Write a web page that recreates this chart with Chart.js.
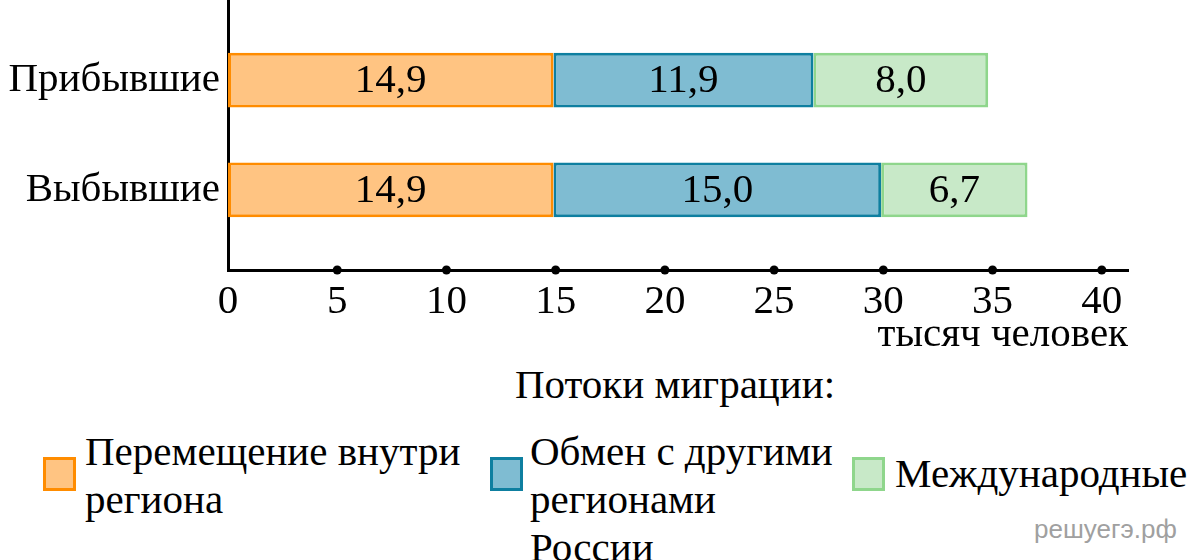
<!DOCTYPE html>
<html lang="ru">
<head>
<meta charset="utf-8">
<script src="https://cdn.jsdelivr.net/npm/chart.js@4.4.0/dist/chart.umd.min.js"></script>
<style>
  body { margin: 0; background: #fff; }
  #wrap { position: relative; width: 1200px; height: 560px; overflow: hidden; font-family: "Liberation Serif", "Times New Roman", serif; color: #000; }
  #chartBox { position: absolute; left: 0; top: 0; width: 1200px; height: 360px; }
  .leg-title { position: absolute; left: 375px; width: 600px; top: 360px; text-align: center; font-size: 41px; line-height: 48px; }
  .item { position: absolute; font-size: 41px; line-height: 48px; }
  .box { position: absolute; width: 27px; height: 28px; border: 3px solid; }
  .mark { position: absolute; left: 1034px; top: 514px; font-family: "Liberation Sans", Arial, sans-serif; font-size: 26px; color: #a0a0a0; }
</style>
</head>
<body>
<div id="wrap">
  <div id="chartBox"><canvas id="migrationChart"></canvas></div>
  <div class="leg-title">Потоки миграции:</div>
  <div id="legend"></div>
  <div class="mark">решуегэ.рф</div>
</div>
<script>
// categories (top to bottom)
const categories = ["Прибывшие", "Выбывшие"];
// series, thousand people
const seriesNames = ["Перемещение внутри региона", "Обмен с другими регионами России", "Международные"];
const insideRegion = [14.9, 14.9];
const otherRegions = [11.9, 15.0];
const international = [8.0, 6.7];
const xTicks = [0, 5, 10, 15, 20, 25, 30, 35, 40];

const fills = ["#ffc482", "#7fbcd2", "#c8e9c8"];
const borders = ["#ff8c00", "#0e7fa0", "#8fd68c"];

const values = [insideRegion, otherRegions, international];

const datasets = values.map((vals, i) => ({
  label: seriesNames[i],
  data: vals.map((v, j) => ({ x: v, y: j + 1 })),
  backgroundColor: fills[i],
  borderColor: borders[i],
  borderWidth: 3,
  borderSkipped: false,
  categoryPercentage: 1,
  barPercentage: 0.5,
}));

// value labels in the middle of each bar
const barLabels = {
  id: "barLabels",
  afterDatasetsDraw(chart) {
    const ctx = chart.ctx;
    ctx.save();
    ctx.font = '41px "Liberation Serif"';
    ctx.fillStyle = "#000";
    ctx.textAlign = "center";
    ctx.textBaseline = "middle";
    chart.data.datasets.forEach((ds, i) => {
      chart.getDatasetMeta(i).data.forEach((bar, j) => {
        const p = bar.getProps(["x", "y", "base"], true);
        const txt = values[i][j].toFixed(1).replace(".", ",");
        ctx.fillText(txt, (p.x + p.base) / 2, p.y + 1);
      });
    });
    ctx.restore();
  }
};

// round dots on the x axis instead of tick marks
const tickDots = {
  id: "tickDots",
  afterDraw(chart) {
    const ctx = chart.ctx;
    const xs = chart.scales.x;
    ctx.save();
    ctx.fillStyle = "#000";
    xTicks.forEach(v => {
      if (v === 0) return;
      ctx.beginPath();
      ctx.arc(xs.getPixelForValue(v), chart.chartArea.bottom, 4.5, 0, Math.PI * 2);
      ctx.fill();
    });
    ctx.restore();
  }
};

new Chart(document.getElementById("migrationChart"), {
  type: "bar",
  data: { datasets: datasets },
  plugins: [barLabels, tickDots],
  options: {
    indexAxis: "y",
    responsive: true,
    maintainAspectRatio: false,
    animation: false,
    layout: { padding: { left: 0, right: 72, top: 0, bottom: 0 } },
    scales: {
      x: {
        type: "linear",
        stacked: true,
        min: 0,
        max: 41.2,
        grid: { display: false },
        border: { display: true, color: "#000", width: 3 },
        afterBuildTicks: (s) => { s.ticks = xTicks.map(v => ({ value: v })); },
        afterFit: (s) => { s.height = 90; s.paddingLeft = 0; s.paddingRight = 0; },
        ticks: {
          color: "#000",
          padding: 0,
          maxRotation: 0,
          font: { family: "Liberation Serif", size: 41 },
        },
        title: {
          display: true,
          text: "тысяч человек",
          align: "end",
          color: "#000",
          padding: { top: -8, bottom: 0 },
          font: { family: "Liberation Serif", size: 41 },
        },
      },
      y: {
        type: "linear",
        stacked: true,
        reverse: true,
        offset: false,
        min: 0.27,
        max: 2.73,
        grid: { display: false },
        border: { display: true, color: "#000", width: 3 },
        afterBuildTicks: (s) => { s.ticks = categories.map((c, i) => ({ value: i + 1 })); },
        afterFit: (s) => { s.width = 228; s.paddingTop = 0; s.paddingBottom = 0; },
        ticks: {
          color: "#000",
          padding: 0,
          callback: (v) => categories[v - 1] || "",
          font: { family: "Liberation Serif", size: 41 },
        },
      },
    },
    plugins: {
      legend: { display: false },
      tooltip: { enabled: false },
    },
  },
});

// html legend (multi-line labels)
const legendLines = [["Перемещение внутри", "региона"], ["Обмен с другими", "регионами", "России"], ["Международные"]];
const legendPos = [{ box: 43, text: 85, top: 427 }, { box: 490, text: 530, top: 427 }, { box: 852, text: 895, top: 449 }];
const legendEl = document.getElementById("legend");
legendLines.forEach((lines, i) => {
  const b = document.createElement("div");
  b.className = "box";
  b.style.left = legendPos[i].box + "px";
  b.style.top = "457px";
  b.style.background = fills[i];
  b.style.borderColor = borders[i];
  legendEl.appendChild(b);
  const t = document.createElement("div");
  t.className = "item";
  t.style.left = legendPos[i].text + "px";
  t.style.top = legendPos[i].top + "px";
  t.innerHTML = lines.join("<br>");
  legendEl.appendChild(t);
});
</script>
</body>
</html>
